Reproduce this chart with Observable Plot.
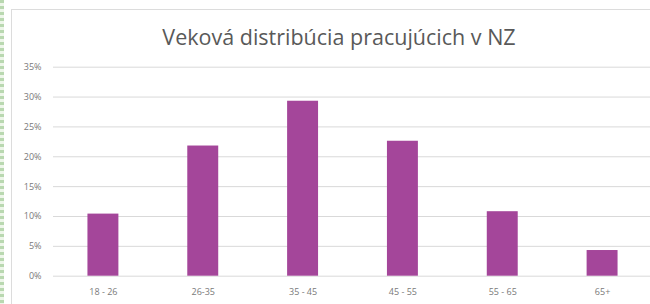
<!DOCTYPE html>
<html>
<head>
<meta charset="utf-8">
<script src="https://cdn.jsdelivr.net/npm/d3@7"></script>
<script src="https://cdn.jsdelivr.net/npm/@observablehq/plot@0.6"></script>
<style>
  html, body { margin: 0; padding: 0; background: #fff; width: 650px; height: 304px; overflow: hidden; }
  #wrap { position: relative; width: 650px; height: 304px; }
  #strip { position: absolute; left: 0; top: 0; width: 4px; height: 304px;
           background: repeating-linear-gradient(to bottom, #b9d8b0 0 3px, #eef6ea 3px 6px); }
  #frame { position: absolute; left: 11px; top: 9px; width: 660px; height: 320px;
           border: 1px solid #dcdcdc; box-sizing: border-box; }
  #title { position: absolute; left: 0; width: 678px; top: 23px; text-align: center;
           font-family: "Open Sans", sans-serif; font-size: 21.5px; color: #595959; line-height: 28px; }
  #chart { position: absolute; left: 0; top: 0; }
</style>
</head>
<body>
<div id="wrap">
  <div id="strip"></div>
  <div id="frame"></div>
  <div id="title">Veková distribúcia pracujúcich v NZ</div>
  <div id="chart"></div>
</div>
<script>
const categories = ["18 - 26", "26-35", "35 - 45", "45 - 55", "55 - 65", "65+"];
const values = [10.4, 21.8, 29.3, 22.6, 10.8, 4.3];
const yTicks = [0, 5, 10, 15, 20, 25, 30, 35];

const data = categories.map((c, i) => ({ category: c, value: values[i] }));

const chart = Plot.plot({
  width: 650,
  height: 304,
  marginLeft: 53,
  marginRight: -2,
  marginTop: 66.7,
  marginBottom: 28.3,
  style: { fontFamily: "Open Sans, sans-serif", fontSize: "9px", color: "#7a7a7a", background: "transparent" },
  x: { domain: categories, paddingInner: 0.69, paddingOuter: 0.345, align: 0.5, round: false, label: null },
  y: { domain: [0, 35], ticks: yTicks, label: null },
  marks: [
    Plot.gridY(yTicks, { stroke: "#d9d9d9", strokeOpacity: 1, strokeWidth: 1 }),
    Plot.barY(data, { x: "category", y: "value", fill: "#a4469a" }),
    Plot.axisY(yTicks, { tickSize: 0, tickPadding: 12, tickFormat: d => d + "%", fill: "#7a7a7a", fontSize: 9 }),
    Plot.axisX({ tickSize: 0, tickPadding: 12, fill: "#7a7a7a", fontSize: 9 })
  ]
});
document.getElementById("chart").appendChild(chart);
</script>
</body>
</html>
